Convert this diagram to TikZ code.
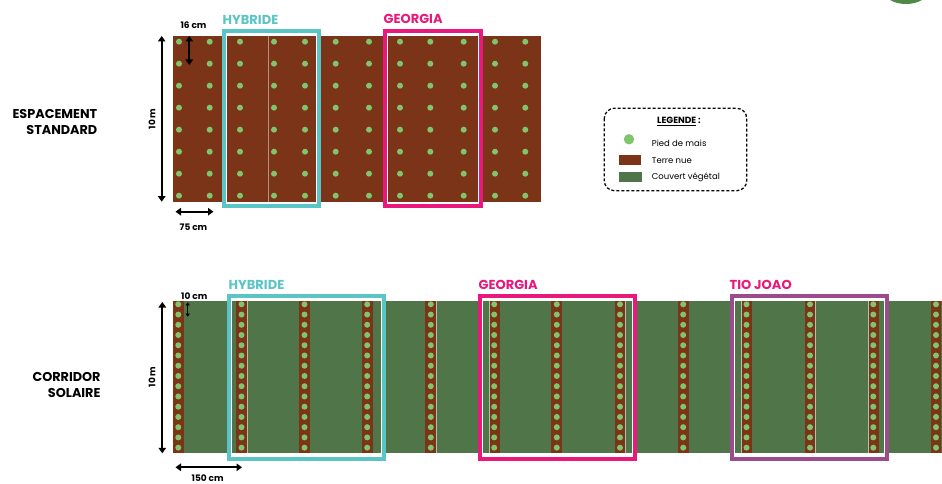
\documentclass[tikz,border=0pt]{standalone}
\usepackage{fontspec}
\setmainfont{Poppins}
\usetikzlibrary{arrows.meta}
\definecolor{soil}{HTML}{7B3417}
\definecolor{cover}{HTML}{4F7549}
\definecolor{maize}{HTML}{80C46C}
\definecolor{hyb}{HTML}{5BC4C4}
\definecolor{geo}{HTML}{E8197B}
\definecolor{tio}{HTML}{9C4C8C}
\definecolor{blob}{HTML}{4E8A45}
\begin{document}
\begin{tikzpicture}[x=1pt,y=-1pt,
  dimarrow/.style={line width=2.3pt,{Triangle[width=7.5pt,length=5.5pt]}-{Triangle[width=7.5pt,length=5.5pt]}},
  thinarrow/.style={line width=1.1pt,{Triangle[width=4pt,length=3pt]}-{Triangle[width=4pt,length=3pt]}},
  trialbox/.style={line width=4pt},
  innerline/.style={white,line width=1pt},
  plotlabel/.style={font=\fontsize{13}{15}\selectfont\bfseries,inner sep=0pt,anchor=west},
  rowlabel/.style={font=\fontsize{12.8}{16}\selectfont\bfseries,inner sep=0pt,anchor=east,align=right},
  dimlabel/.style={font=\fontsize{9}{10}\selectfont\bfseries,inner sep=0pt},
  legtext/.style={font=\fontsize{8.5}{10}\selectfont,inner sep=0pt,anchor=west},
  seam/.style={soil!55!white,line width=0.6pt}]
\clip (0,0) rectangle (942,484);
\fill[white] (0,0) rectangle (942,484);
% corner blob
\fill[blob] (906,-9) ellipse [x radius=22pt, y radius=13pt];

% ---------- ESPACEMENT STANDARD ----------
\node[rowlabel] (lab1) at (97.5,122) {ESPACEMENT\\STANDARD};
\fill[soil] (172.7,35.7) rectangle (541,201.7);
\draw[seam] (268.3,35.7) -- (268.3,201.7);
\foreach \x in {179,209.7,240,274,305,335.7,369,400,430.3,463.7,495,525.3}
  \foreach \y in {41.7,63.7,85.7,107.7,129.7,151.7,173.7,195.7}
    \fill[maize] (\x,\y) circle[radius=3pt];
% boxes
\draw[innerline] (226.2,33.8) rectangle (316.5,203.2);
\draw[trialbox,hyb] (223.7,31.3) rectangle (319,205.7);
\draw[innerline] (387.8,33.8) rectangle (478.8,203.2);
\draw[trialbox,geo] (385.3,31.3) rectangle (481.3,205.7);
\node[plotlabel,text=hyb] (hyb1) at (222.5,20) {HYBRIDE};
\node[plotlabel,text=geo] (geo1) at (383.5,19) {GEORGIA};
% dimensions
\coordinate (h1t) at (161.7,36);
\coordinate (h1b) at (161.7,201.7);
\draw[dimarrow] (h1t) -- (h1b);
\node[dimlabel,rotate=90] (m1) at (152,119) {10 m};
\coordinate (s1t) at (189.3,36);
\coordinate (s1b) at (189.3,65);
\draw[dimarrow] (s1t) -- (s1b);
\node[dimlabel] (c16) at (193.5,25) {16 cm};
\coordinate (w1l) at (175.5,211.7);
\coordinate (w1r) at (213.5,211.7);
\draw[dimarrow] (w1l) -- (w1r);
\node[dimlabel] (c75) at (193.5,227.7) {75 cm};

% ---------- LEGEND ----------
\draw[dashed,dash pattern=on 3pt off 2pt,line width=1.3pt,rounded corners=10pt] (604.3,108.3) rectangle (746.7,190.7);
\node[font=\fontsize{9}{10}\selectfont\bfseries,inner sep=0pt] (legt) at (679,121.7) {\underline{LEGENDE}~:};
\fill[maize] (629,139.3) circle[radius=5.2pt];
\fill[soil] (619,155) rectangle (640.7,164.5);
\fill[cover] (619,171.7) rectangle (641.7,181.7);
\node[legtext] (l1) at (651.7,143.3) {Pied de mais};
\node[legtext] (l2) at (651.7,160.7) {Terre nue};
\node[legtext] (l3) at (651.7,177.7) {Couvert végétal};

% ---------- CORRIDOR SOLAIRE ----------
\node[rowlabel] (lab2) at (100.7,384.7) {CORRIDOR\\SOLAIRE};
\fill[cover] (172.7,300.7) rectangle (942,453.3);
\foreach \x in {178.3,241.5,304.5,367.2,430.8,494.2,556.8,620,683.2,746.5,810,873.3,936}{
  \fill[soil] (\x-5.4,300.7) rectangle (\x+5.4,453.3);
  \foreach \i in {0,...,14}
    \fill[maize] (\x,304.3+10.24*\i) circle[radius=3pt];
}
\foreach \x in {247.1,436.2,488.8,625.4,741.1,815.4,867.9}
  \draw[cover!45!white,line width=0.5pt] (\x,300.7) -- (\x,453.3);
% boxes
\draw[innerline] (231.2,298.8) rectangle (381.2,456.2);
\draw[trialbox,hyb] (228.7,296.3) rectangle (383.7,458.7);
\draw[innerline] (482.8,298.8) rectangle (632.5,456.2);
\draw[trialbox,geo] (480.3,296.3) rectangle (635,458.7);
\draw[innerline] (734.5,298.8) rectangle (884.2,456.2);
\draw[trialbox,tio] (732,296.3) rectangle (886.7,458.7);
\node[plotlabel,text=hyb] (hyb2) at (228.5,285) {HYBRIDE};
\node[plotlabel,text=geo] (geo2) at (478.5,285) {GEORGIA};
\node[plotlabel,text=geo] (tio2) at (729.5,285) {TIO JOAO};
% dimensions
\coordinate (h2t) at (162.3,302);
\coordinate (h2b) at (162.3,453.3);
\draw[dimarrow] (h2t) -- (h2b);
\node[dimlabel,rotate=90] (m2) at (152,377) {10 m};
\coordinate (s2t) at (187.7,302.3);
\coordinate (s2b) at (187.7,316.7);
\draw[thinarrow] (s2t) -- (s2b);
\node[dimlabel] (c10) at (194.3,295.7) {10 cm};
\coordinate (w2l) at (175.5,467.3);
\coordinate (w2r) at (242,467.3);
\draw[dimarrow] (w2l) -- (w2r);
\node[dimlabel] (c150) at (207.7,478.3) {150 cm};
\end{tikzpicture}
\end{document}
